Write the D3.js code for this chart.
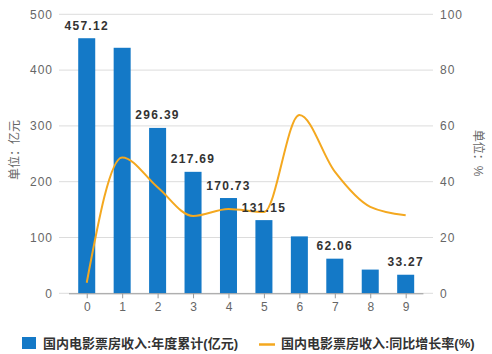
<!DOCTYPE html>
<html><head><meta charset="utf-8">
<script src="https://cdn.jsdelivr.net/npm/d3@7/dist/d3.min.js"></script>
<style>body{margin:0;background:#fff;}svg{display:block;}</style>
</head><body>
<svg id="c" width="492" height="354"></svg>
<script>
const categories = ["0","1","2","3","4","5","6","7","8","9"];
const boxOffice = [457.12, 440, 296.39, 217.69, 170.73, 131.15, 102, 62.06, 42.5, 33.27];
const growth = [3.8, 48.7, 38, 27.7, 30.2, 29.1, 63.9, 43.6, 31, 28];
const labelled = [0, 2, 3, 4, 5, 7, 9];
const leftTicks = [0, 100, 200, 300, 400, 500];
const rightTicks = [0, 20, 40, 60, 80, 100];
const seriesNames = ["国内电影票房收入:年度累计(亿元)", "国内电影票房收入:同比增长率(%)"];
const leftTitle = "单位：亿元";
const rightTitle = "单位：%";

(function () {
const blue = "#1479c7", orange = "#f4a81f";
const font = "'Liberation Sans','Noto Sans CJK SC',sans-serif";
const svg = d3.select("#c");
const plotTop = 14.3, plotBottom = 293.3;
const x = d3.scaleBand().domain(categories).range([69, 423.4]).paddingInner(0.52).paddingOuter(0.26);
const yL = d3.scaleLinear().domain([0, 500]).range([plotBottom, plotTop]);
const yR = d3.scaleLinear().domain([0, 100]).range([plotBottom, plotTop]);
const cx = i => x(categories[i]) + x.bandwidth() / 2;

// gridlines
svg.append("g").selectAll("line").data(leftTicks).join("line")
  .attr("x1", 59).attr("x2", 433)
  .attr("y1", d => yL(d)).attr("y2", d => yL(d))
  .attr("stroke", "#dcdcdc").attr("stroke-width", 1);

// left axis labels
const gl = svg.append("g").attr("transform", "translate(59,0)")
  .call(d3.axisLeft(yL).tickValues(leftTicks).tickSize(0).tickPadding(6));
gl.select(".domain").remove();
gl.selectAll("text").attr("fill", "#666").style("font-family", font).style("font-size", "12px").style("letter-spacing", "1px");

// right axis labels
const gr = svg.append("g").attr("transform", "translate(433,0)")
  .call(d3.axisRight(yR).tickValues(rightTicks).tickSize(0).tickPadding(7));
gr.select(".domain").remove();
gr.selectAll("text").attr("fill", "#666").style("font-family", font).style("font-size", "12px").style("letter-spacing", "1px");

// bars
svg.append("g").selectAll("rect").data(boxOffice).join("rect")
  .attr("x", (d, i) => x(categories[i]))
  .attr("width", x.bandwidth())
  .attr("y", d => yL(d))
  .attr("height", d => plotBottom - yL(d))
  .attr("fill", blue);

// x axis
const xp = d3.scalePoint().domain(categories).range([cx(0), cx(categories.length - 1)]);
const gx = svg.append("g").attr("transform", `translate(0,${plotBottom})`)
  .call(d3.axisBottom(xp).tickSize(5).tickPadding(4).tickSizeOuter(0));
gx.select(".domain").attr("d", "M69,0.5H423.4").attr("stroke", "#999");
gx.selectAll(".tick line").attr("stroke", "#999");
gx.selectAll("text").attr("fill", "#666").style("font-family", font).style("font-size", "12px");

// line
const line = d3.line()
  .x((d, i) => cx(i))
  .y(d => yR(d))
  .curve(d3.curveMonotoneX);
svg.append("path").datum(growth).attr("d", line)
  .attr("fill", "none").attr("stroke", orange).attr("stroke-width", 2);

// bar labels
svg.append("g").selectAll("text").data(labelled).join("text")
  .attr("x", i => cx(i))
  .attr("y", i => yL(boxOffice[i]) - 8.5)
  .attr("text-anchor", "middle")
  .attr("fill", "#333")
  .style("font-family", font).style("font-size", "12px").style("font-weight", "bold").style("letter-spacing", "1.3px")
  .text(i => boxOffice[i].toFixed(2));

// axis titles
svg.append("text").attr("transform", "translate(15,150) rotate(-90)")
  .attr("text-anchor", "middle").attr("dominant-baseline", "central")
  .attr("fill", "#666").style("font-family", font).style("font-size", "12px").text(leftTitle);
svg.append("text").attr("transform", "translate(478,153) rotate(90)")
  .attr("text-anchor", "middle").attr("dominant-baseline", "central")
  .attr("fill", "#666").style("font-family", font).style("font-size", "12px").text(rightTitle);

// legend
const lg = svg.append("g");
lg.append("rect").attr("x", 22).attr("y", 337).attr("width", 14).attr("height", 12).attr("fill", blue);
lg.append("text").attr("x", 43).attr("y", 343.5).attr("dominant-baseline", "central")
  .attr("fill", "#333").style("font-family", font).style("font-size", "13px").style("font-weight", "bold").text(seriesNames[0]);
lg.append("line").attr("x1", 259).attr("x2", 275).attr("y1", 344.5).attr("y2", 344.5).attr("stroke", orange).attr("stroke-width", 2.5);
lg.append("text").attr("x", 281).attr("y", 343.5).attr("dominant-baseline", "central")
  .attr("fill", "#333").style("font-family", font).style("font-size", "13px").style("font-weight", "bold").text(seriesNames[1]);
})();
</script>
</body></html>
